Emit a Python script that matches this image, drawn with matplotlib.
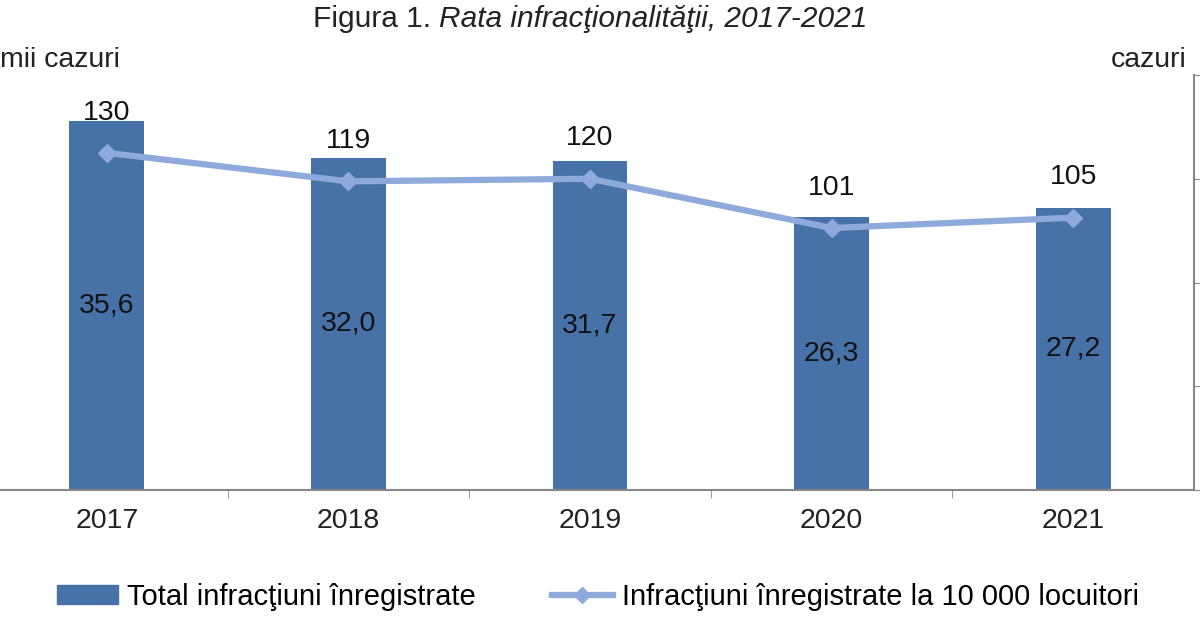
import matplotlib
matplotlib.use("Agg")
import matplotlib.pyplot as plt
from matplotlib.patches import Patch
from matplotlib.lines import Line2D

plt.rcParams['font.family'] = ['Liberation Sans', 'DejaVu Sans']

# ---------------- Data ----------------
years = ["2017", "2018", "2019", "2020", "2021"]
total_mii = [35.6, 32.0, 31.7, 26.3, 27.2]        # mii cazuri (bars)
per_10000 = [130, 119, 120, 101, 105]             # cazuri la 10 000 locuitori (line)

bar_color = "#4672A8"
line_color = "#8EA9DB"
spine_color = "#888888"
fs = 20

fig = plt.figure(figsize=(12, 6.3), dpi=100)
# axes spans a bit past the left edge, like the cropped original
ax = fig.add_axes([-14 / 1200, 140 / 630, 1208 / 1200, 415 / 630])
ax2 = ax.twinx()

x = list(range(len(years)))

# ---------------- Bars ----------------
ax.bar(x, total_mii, width=0.31, color=bar_color, zorder=2)
for xi, v in zip(x, total_mii):
    ax.text(xi, v / 2, f"{v:.1f}".replace(".", ","), ha="center", va="center",
            fontsize=fs + 0.5, color="#111111", zorder=3)

ax.set_xlim(-0.5, 4.5)
ax.set_ylim(0, 40)
ax.set_xticks(x)
ax.set_xticklabels(years, fontsize=fs + 0.5, color="#222222")
ax.tick_params(axis="x", which="major", length=0, pad=13)
ax.set_xticks([0.5, 1.5, 2.5, 3.5], minor=True)
ax.tick_params(axis="x", which="minor", length=6, color=spine_color, direction="out")
ax.set_yticks([])
for s in ["top", "left", "right"]:
    ax.spines[s].set_visible(False)
ax.spines["bottom"].set_color(spine_color)
ax.spines["bottom"].set_linewidth(1.5)

# ---------------- Line ----------------
ax2.plot(x, per_10000, color=line_color, lw=4.5, marker="D", markersize=9,
         markerfacecolor=line_color, markeredgecolor=line_color, zorder=4)
for xi, v in zip(x, per_10000):
    ax2.annotate(str(v), (xi, v), xytext=(0, 29), textcoords="offset points",
                 ha="center", va="center", fontsize=fs + 0.5, color="#111111")

ax2.set_ylim(0, 160)
ax2.set_yticks([0, 40, 80, 120, 160])
ax2.set_yticklabels([])
ax2.tick_params(axis="y", length=6, color=spine_color, direction="out")
for s in ["top", "left", "bottom"]:
    ax2.spines[s].set_visible(False)
ax2.spines["right"].set_color(spine_color)
ax2.spines["right"].set_linewidth(1.5)

# ---------------- Texts ----------------
t1 = fig.text(313 / 1200, 1 - 19 / 630, "Figura 1. ", fontsize=fs + 1.5, va="center",
              ha="left", color="#222222")
ax.annotate("Rata infracţionalităţii, 2017-2021", xy=(1, 0.5), xycoords=t1,
            va="center", ha="left", fontsize=fs + 1.5, style="italic", color="#222222",
            annotation_clip=False)
fig.text(0.0, 1 - 60 / 630, "mii cazuri", fontsize=fs + 0.5, va="center", ha="left",
         color="#222222")
fig.text(1187 / 1200, 1 - 60 / 630, "cazuri", fontsize=fs + 0.5, va="center", ha="right",
         color="#222222")

# ---------------- Legend ----------------
handles = [
    Patch(facecolor=bar_color, edgecolor=bar_color),
    Line2D([0], [0], color=line_color, lw=4.5, marker="D", markersize=8),
]
labels = ["Total infracţiuni înregistrate", "Infracţiuni înregistrate la 10 000 locuitori"]
fig.legend(handles, labels, loc="center", bbox_to_anchor=(598 / 1200, 1 - 597 / 630),
           ncol=2, frameon=False, fontsize=fs + 1, handlelength=2.1, handleheight=0.6,
           handletextpad=0.3, columnspacing=2.6)

fig.savefig("out.png", dpi=100)
